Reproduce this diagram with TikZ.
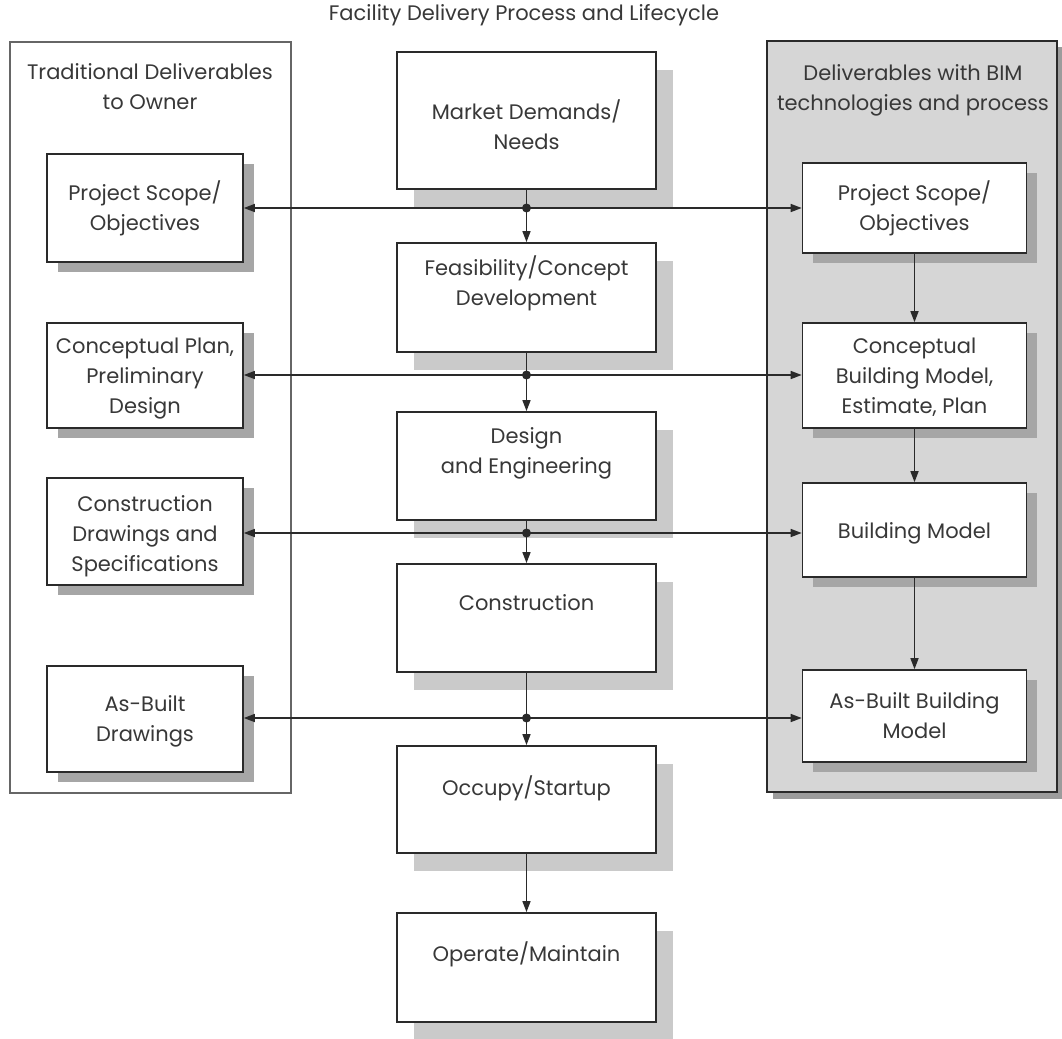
\documentclass[tikz,border=0pt]{standalone}
\usepackage{fontspec}
\setmainfont{Poppins}
\usetikzlibrary{arrows.meta,shadows}
\definecolor{ink}{HTML}{2A2A2A}
\definecolor{txt}{HTML}{383838}
\definecolor{cshade}{HTML}{CACACA}
\definecolor{sshade}{HTML}{A6A6A6}
\definecolor{panel}{HTML}{D6D6D6}
\definecolor{pshade}{HTML}{9C9C9C}
\begin{document}
\begin{tikzpicture}[x=1pt,y=-1pt,
  every node/.style={font=\fontsize{21}{30}\selectfont, text=txt, align=center},
  % text box sizes: height of the lines above the last baseline, depth below it
  tb/.style 2 args={text height=#1pt, text depth=#2pt},
  stage/.style={draw=ink, line width=1.8pt, fill=white, minimum width=259pt, inner sep=0pt,
    drop shadow={shadow xshift=17pt, shadow yshift=-18pt, fill=cshade, opacity=1}},
  owner/.style={draw=ink, line width=1.6pt, fill=white, minimum width=196pt, inner sep=0pt,
    drop shadow={shadow xshift=11pt, shadow yshift=-10pt, fill=sshade, opacity=1}},
  bim/.style={draw=ink, line width=1.6pt, fill=white, minimum width=224pt, inner sep=0pt,
    drop shadow={shadow xshift=10pt, shadow yshift=-10pt, fill=sshade, opacity=1}},
  flow/.style={draw=ink, line width=1.5pt, -{Triangle[length=11pt,width=8pt]}},
  junction/.style={circle, fill=ink, inner sep=0pt, minimum size=9pt}
]
% canvas
\fill[white] (0,0) rectangle (1062,1038);
\useasboundingbox (0,0) rectangle (1062,1038);

% title
\node (title) at (524,15) {Facility Delivery Process and Lifecycle};

% side panels
\draw[draw=gray!80!black, line width=1.4pt] (10,42) rectangle (291,793);
\fill[pshade] (773,47) rectangle (1063,799);
\draw[draw=ink, line width=1.4pt, fill=panel] (767,41) rectangle (1057,792);
\node (ltitle) at (150,87) {Traditional Deliverables\\to Owner};
\node (rtitle) at (913,90) {Deliverables with BIM\\technologies and process};

% lifecycle stages
\node[stage, minimum height=137pt, tb={59}{0.6}] (market) at (526.5,120.5) {Market Demands/\\Needs};
\node[stage, minimum height=109pt, tb={46}{30.6}] (feas) at (526.5,297.5) {Feasibility/Concept\\Development};
\node[stage, minimum height=108pt, tb={46}{31.6}] (design) at (526.5,466) {Design\\and Engineering};
\node[stage, minimum height=108pt, tb={16}{30.6}] (constr) at (526.5,618) {Construction};
\node[stage, minimum height=107pt, tb={16}{23.6}] (occupy) at (526.5,799.5) {Occupy/Startup};
\node[stage, minimum height=109pt, tb={16}{27.6}] (operate) at (526.5,967.5) {Operate/Maintain};

% traditional deliverables
\node[owner, minimum height=108pt, tb={46}{0.6}] (psl) at (145,208) {Project Scope/\\Objectives};
\node[owner, minimum height=105pt, tb={76}{0.6}] (cpl) at (145,375.5) {Conceptual Plan,\\Preliminary\\Design};
\node[owner, minimum height=107pt, tb={80}{0.6}] (cdl) at (145,531.5) {Construction\\Drawings and\\Specifications};
\node[owner, minimum height=106pt, tb={46}{0.6}] (abl) at (145,719) {As-Built\\Drawings};

% BIM deliverables
\node[bim, minimum height=90pt, tb={46}{0.6}] (psr) at (914.5,208) {Project Scope/\\Objectives};
\node[bim, minimum height=105pt, tb={76}{0.6}] (cbr) at (914.5,375.5) {Conceptual\\Building Model,\\Estimate, Plan};
\node[bim, minimum height=94pt, tb={18}{0.6}] (bmr) at (914.5,530) {Building Model};
\node[bim, minimum height=92pt, tb={46}{0.6}] (abr) at (914.5,716) {As-Built Building\\Model};

% junctions on the lifecycle spine
\coordinate (j1) at (526.5,208);
\coordinate (j2) at (526.5,375);
\coordinate (j3) at (526.5,533);
\coordinate (j4) at (526.5,718);

% spine
\draw[flow] (market) -- (feas);
\draw[flow] (feas) -- (design);
\draw[flow] (design) -- (constr);
\draw[flow] (constr) -- (occupy);
\draw[flow] (occupy) -- (operate);

% deliverable branches
\foreach \j/\l/\r in {j1/psl/psr, j2/cpl/cbr, j3/cdl/bmr, j4/abl/abr}{
  \draw[flow] (\j) -- (\l.east |- \j);
  \draw[flow] (\j) -- (\r.west |- \j);
  \node[junction] at (\j) {};
}

% BIM model evolution
\draw[flow] (psr) -- (cbr);
\draw[flow] (cbr) -- (bmr);
\draw[flow] (bmr) -- (abr);
\end{tikzpicture}
\end{document}
